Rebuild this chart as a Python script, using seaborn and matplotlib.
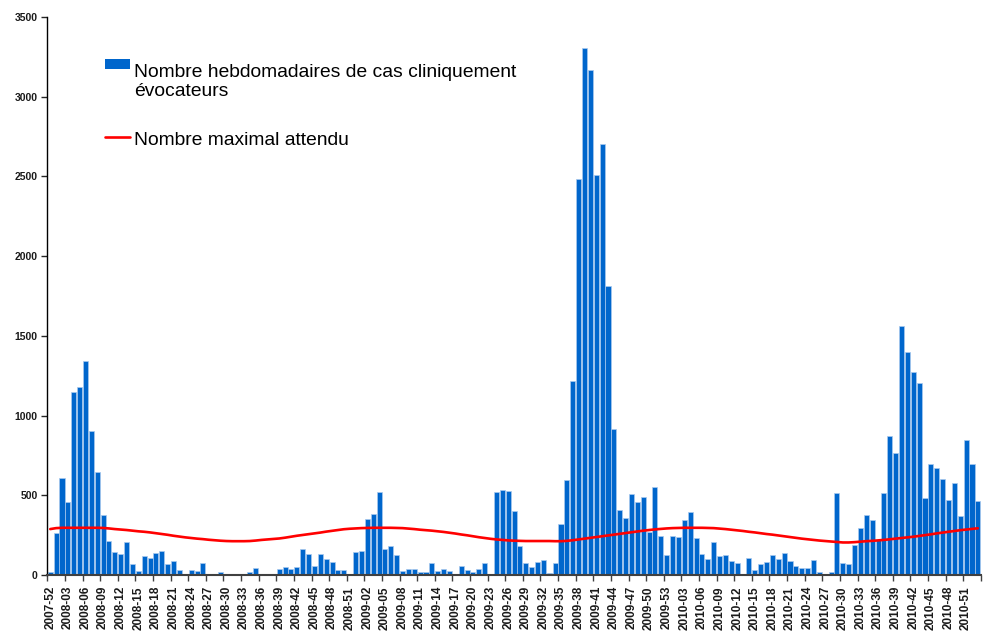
import numpy as np
import pandas as pd
import matplotlib
matplotlib.use('Agg')
import matplotlib.pyplot as plt
import seaborn as sns
from matplotlib.patches import Rectangle
from matplotlib.lines import Line2D

# semaines ISO, 2007-52 -> 2011-01
weeks = (['2007-52']
         + ['2008-%02d' % w for w in range(1, 53)]
         + ['2009-%02d' % w for w in range(1, 54)]
         + ['2010-%02d' % w for w in range(1, 53)]
         + ['2011-01'])

# nombre hebdomadaire de cas
cases = [21,
         266, 611, 455, 1150, 1178, 1342, 905, 648, 374, 211,
         146, 130, 204, 72, 22, 116, 108, 138, 153, 66,
         88, 31, 9, 31, 23, 73, 8, 0, 16, 8,
         0, 9, 0, 16, 44, 0, 0, 9, 38, 53,
         38, 53, 160, 130, 59, 130, 103, 80, 31, 31,
         0, 146,
         152, 353, 382, 519, 162, 181, 124, 23, 40, 40,
         17, 17, 74, 25, 40, 25, 0, 59, 32, 17,
         40, 74, 0, 519, 533, 525, 403, 181, 74, 53,
         80, 97, 10, 74, 317, 596, 1217, 2482, 3307, 3165,
         2510, 2705, 1813, 915, 410, 360, 510, 458, 492, 272,
         550, 246, 124,
         246, 237, 344, 397, 231, 130, 103, 204, 118, 124,
         88, 74, 0, 109, 32, 67, 80, 124, 103, 139,
         88, 59, 46, 46, 97, 17, 0, 17, 512, 74,
         67, 189, 296, 374, 344, 218, 512, 869, 767, 1562,
         1399, 1271, 1205, 481, 697, 668, 603, 468, 575, 368,
         846, 697,
         462]

# nombre maximal attendu
expected = [288, 294, 296, 296, 296, 296, 296, 296, 296, 295, 292,
            288, 285, 282, 278, 274, 271, 267, 262, 257, 252,
            246, 241, 236, 232, 228, 225, 221, 218, 215, 213,
            212, 212, 212, 213, 216, 220, 223, 226, 229, 234,
            240, 246, 251, 256, 261, 266, 272, 277, 282, 287,
            290, 292, 294, 295, 296, 296, 296, 296, 295, 294,
            291, 288, 284, 281, 278, 274, 270, 265, 260, 254,
            249, 243, 237, 232, 227, 223, 220, 217, 215, 214,
            213, 213, 213, 213, 213, 212, 212, 214, 218, 223,
            228, 233, 238, 243, 248, 253, 258, 263, 268, 273,
            278, 282, 286, 289, 292, 294, 295, 296, 296, 296,
            296, 295, 294, 291, 288, 284, 280, 276, 271, 267,
            262, 257, 253, 248, 243, 238, 233, 228, 224, 220,
            216, 213, 210, 207, 204, 204, 206, 209, 212, 214,
            217, 220, 224, 228, 232, 236, 240, 245, 250, 255,
            261, 266, 271, 276, 281, 285, 289, 293]

legend_labels = ['Nombre hebdomadaires de cas cliniquement\névocateurs',
                 'Nombre maximal attendu']

sns.set_style('ticks')
plt.rcParams['font.family'] = ['Liberation Sans', 'DejaVu Sans']

df = pd.DataFrame({'semaine': weeks, 'cas': cases, 'attendu': expected})
n = len(weeks)

W, H = 988, 632
fig = plt.figure(figsize=(W / 100, H / 100), dpi=100)
ax = fig.add_axes([0.0479, 0.0902, 0.9448, 0.8830])

sns.barplot(data=df, x='semaine', y='cas', color='#0066CC', saturation=1,
            width=0.86, edgecolor='#a9c9ee', linewidth=0.5, ax=ax)
sns.lineplot(x=np.arange(n), y=df['attendu'], color='#FF0000', lw=1.9, ax=ax)

ax.set_xlim(-0.5, n - 0.5)
ax.set_ylim(0, 3500)
ax.set_yticks(range(0, 3501, 500))
ax.set_xticks(range(0, n, 3))
ax.set_xticklabels(weeks[::3], rotation=90, fontsize=8.5, fontweight='bold', color='#1a1a1a')
ax.set_xticks(np.arange(-0.5, n, 3), minor=True)
ax.tick_params(axis='x', which='major', length=0, pad=8)
ax.tick_params(axis='x', which='minor', length=4, width=1, color='#404040', direction='out')
ax.tick_params(axis='y', length=4, width=1, direction='out', labelsize=7.5, pad=3,
               labelcolor='#1a1a1a')
for lab in ax.get_yticklabels():
    lab.set_fontweight('bold')
ax.set_xlabel('')
ax.set_ylabel('')

sns.despine(ax=ax)
ax.spines['left'].set_color('black')
ax.spines['left'].set_linewidth(1)
ax.spines['bottom'].set_color('#404040')
ax.spines['bottom'].set_linewidth(1.5)

# légende dessinée à la main (symbole aligné sur la première ligne)
fx = lambda px: px / W
fy = lambda py: 1 - py / H
fig.patches.append(Rectangle((fx(105), fy(69)), fx(130) - fx(105), fy(59) - fy(69),
                             transform=fig.transFigure, facecolor='#0066CC',
                             edgecolor='none', figure=fig))
fig.lines.append(Line2D([fx(105), fx(130)], [fy(137), fy(137)], transform=fig.transFigure,
                        color='#FF0000', lw=1.9, figure=fig))
# va='baseline' se cale sur la dernière ligne du texte
fig.text(fx(134), fy(95.5), legend_labels[0], fontsize=13.9, va='baseline', ha='left',
         linespacing=1.15, color='black')
fig.text(fx(134), fy(145), legend_labels[1], fontsize=13.9, va='baseline', ha='left',
         color='black')

fig.savefig('out.png', dpi=100)
